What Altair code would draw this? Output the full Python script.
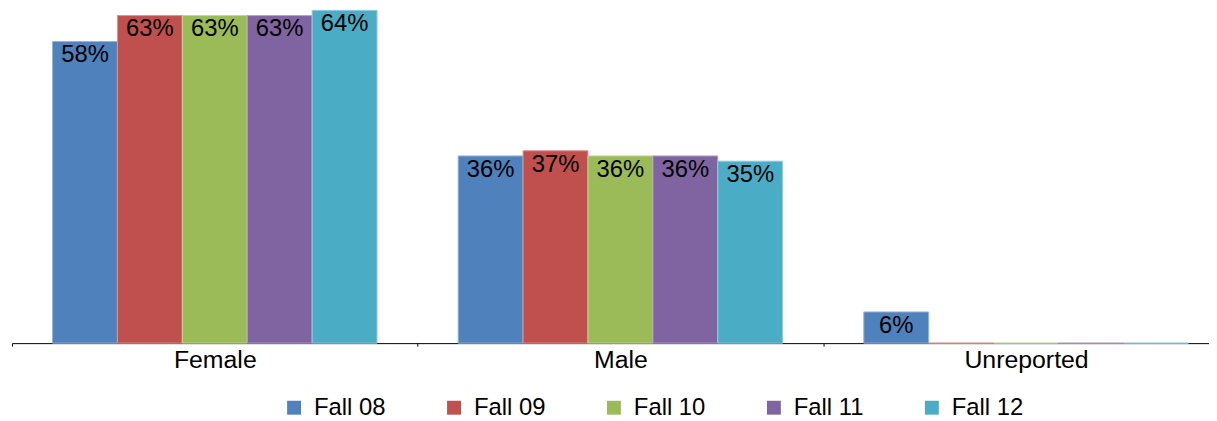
import altair as alt
import pandas as pd

categories = ["Female", "Male", "Unreported"]
series = ["Fall 08", "Fall 09", "Fall 10", "Fall 11", "Fall 12"]
fall08 = [58, 36, 6]
fall09 = [63, 37, 0]
fall10 = [63, 36, 0]
fall11 = [63, 36, 0]
fall12 = [64, 35, 0]
colors = ["#4F81BD", "#C0504D", "#9BBB59", "#8064A2", "#4BACC6"]
strokes = ["#95B3D7", "#D99694", "#C3D69B", "#B3A2C7", "#93CDDD"]

rows = []
for s, vals in zip(series, [fall08, fall09, fall10, fall11, fall12]):
    for c, v in zip(categories, vals):
        rows.append({"category": c, "series": s, "value": v, "label": f"{v}%"})
df = pd.DataFrame(rows)

FONT = "Liberation Sans"

x = alt.X("category:N", sort=categories, title=None,
          scale=alt.Scale(paddingInner=0, paddingOuter=0, range=[0, 1225]),
          axis=alt.Axis(labelAngle=0, labelFontSize=25, labelFont=FONT, labelColor="#000000",
                        domainColor="#000000", domainWidth=1, tickColor="#000000",
                        tickSize=3, tickBand="extent", labelPadding=2, grid=False))
xo = alt.XOffset("series:N", sort=series, scale=alt.Scale(paddingInner=0, paddingOuter=0.625))
y = alt.Y("value:Q", scale=alt.Scale(domain=[0, 64], nice=False, zero=True), axis=None)

bars = alt.Chart(df).mark_bar(strokeWidth=1, clip=False).encode(
    x=x, xOffset=xo, y=y,
    color=alt.Color("series:N", sort=series, scale=alt.Scale(domain=series, range=colors),
                    title=None,
                    legend=alt.Legend(orient="none", legendX=272, legendY=388, direction="horizontal",
                                      columns=5, symbolType="square", symbolSize=196,
                                      symbolStrokeWidth=0, symbolOpacity=1,
                                      labelFontSize=24, labelFont=FONT, labelColor="#000000",
                                      labelOffset=8, columnPadding=56, labelLimit=300, padding=0)),
    stroke=alt.Stroke("series:N", sort=series, scale=alt.Scale(domain=series, range=strokes),
                      legend=None),
)

text = alt.Chart(df).transform_filter("datum.value > 0").mark_text(
    baseline="middle", dy=14, fontSize=24, font=FONT, color="#000000"
).encode(x=x, xOffset=xo, y=y, text="label:N")

chart = alt.layer(bars, text).properties(
    width=1205, height=335,
    autosize=alt.AutoSizeParams(type="none"),
    padding={"left": 4, "top": 1, "right": 0, "bottom": 77},
).configure_view(stroke=None)

chart.save("out.html", embed_options={"renderer": "svg", "actions": False})
